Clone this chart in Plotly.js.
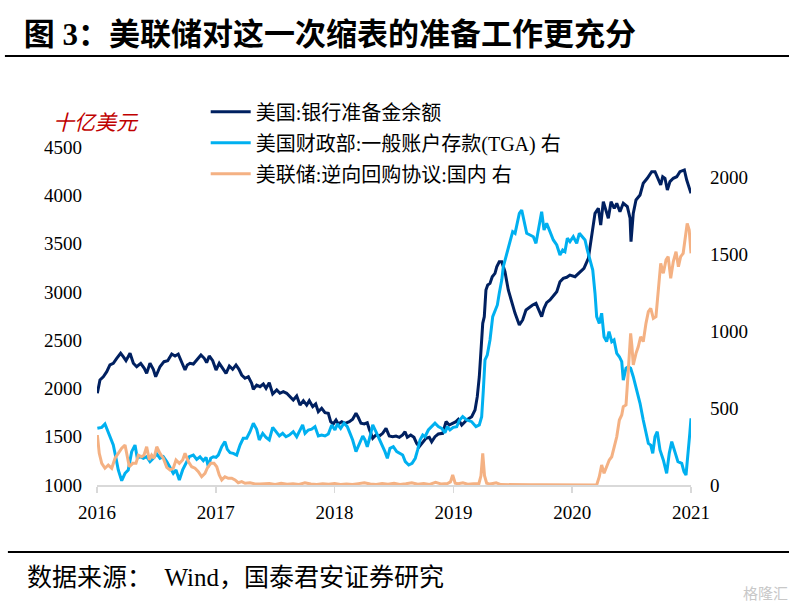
<!DOCTYPE html>
<html><head><meta charset="utf-8">
<script src="https://cdn.plot.ly/plotly-3.0.1.min.js"></script>
<style>html,body{margin:0;padding:0;background:#fff}#chart{width:789px;height:612px}</style>
</head><body><div id="chart"></div>
<script>
// 美国:银行准备金余额 (left axis, 十亿美元)
const reserveYears = [2016.003,2016.025,2016.053,2016.082,2016.109,2016.137,2016.166,2016.199,2016.221,2016.244,2016.278,2016.306,2016.334,2016.368,2016.398,2016.418,2016.446,2016.474,2016.494,2016.530,2016.564,2016.595,2016.629,2016.657,2016.684,2016.713,2016.741,2016.760,2016.783,2016.811,2016.839,2016.875,2016.903,2016.923,2016.945,2016.974,2017.002,2017.029,2017.058,2017.086,2017.114,2017.142,2017.170,2017.195,2017.218,2017.246,2017.274,2017.302,2017.316,2017.344,2017.372,2017.400,2017.423,2017.450,2017.479,2017.513,2017.540,2017.568,2017.597,2017.625,2017.652,2017.681,2017.709,2017.737,2017.765,2017.787,2017.816,2017.841,2017.863,2017.891,2017.919,2017.947,2017.967,2017.989,2018.012,2018.031,2018.060,2018.088,2018.124,2018.152,2018.180,2018.199,2018.222,2018.250,2018.275,2018.292,2018.321,2018.348,2018.376,2018.405,2018.433,2018.460,2018.489,2018.517,2018.545,2018.573,2018.593,2018.612,2018.641,2018.668,2018.691,2018.713,2018.742,2018.769,2018.797,2018.817,2018.845,2018.873,2018.910,2018.938,2018.965,2018.994,2019.022,2019.041,2019.070,2019.112,2019.154,2019.182,2019.201,2019.218,2019.235,2019.247,2019.260,2019.274,2019.289,2019.308,2019.327,2019.350,2019.365,2019.386,2019.407,2019.434,2019.462,2019.491,2019.519,2019.555,2019.583,2019.611,2019.639,2019.667,2019.695,2019.715,2019.743,2019.763,2019.785,2019.813,2019.841,2019.870,2019.897,2019.925,2019.954,2019.981,2020.024,2020.066,2020.099,2020.136,2020.164,2020.192,2020.220,2020.240,2020.262,2020.285,2020.304,2020.327,2020.354,2020.375,2020.402,2020.430,2020.464,2020.487,2020.495,2020.514,2020.537,2020.571,2020.598,2020.632,2020.669,2020.697,2020.725,2020.745,2020.762,2020.781,2020.801,2020.823,2020.851,2020.880,2020.907,2020.944,2020.964,2020.986,2021.000];
const reserveValues = [1950,2087,2121,2173,2243,2260,2312,2364,2329,2287,2364,2260,2225,2260,2208,2156,2260,2198,2121,2225,2277,2287,2356,2336,2356,2277,2191,2243,2260,2253,2294,2346,2312,2267,2336,2287,2191,2260,2208,2156,2232,2198,2243,2198,2139,2105,2121,2053,1991,2035,2018,2046,2001,2059,1942,1984,1950,1966,1950,1915,1880,1922,1828,1873,1828,1873,1811,1839,1759,1794,1749,1742,1656,1632,1673,1632,1656,1639,1656,1680,1742,1701,1639,1632,1645,1577,1484,1518,1507,1535,1587,1507,1500,1507,1494,1518,1552,1494,1518,1494,1431,1397,1448,1484,1494,1448,1500,1528,1535,1656,1621,1639,1656,1680,1621,1673,1707,1777,1915,2121,2398,2674,2743,3019,3071,3088,3157,3192,3260,3312,3312,3209,3019,2881,2778,2657,2709,2812,2840,2864,2881,2829,2743,2829,2888,2916,2957,3002,3105,3140,3151,3174,3157,3209,3243,3347,3571,3813,3865,3692,3934,3848,3762,3934,3865,3917,3830,3917,3882,3762,3520,3813,3951,4003,4124,4176,4244,4244,4158,4107,4192,4176,4055,4141,4176,4192,4244,4262,4158,4055,4020];

// 美国财政部:一般账户存款(TGA) (right axis)
const tgaYears = [2016.003,2016.040,2016.067,2016.087,2016.109,2016.137,2016.160,2016.179,2016.208,2016.236,2016.263,2016.292,2016.320,2016.339,2016.362,2016.390,2016.418,2016.446,2016.474,2016.503,2016.530,2016.558,2016.587,2016.614,2016.642,2016.665,2016.693,2016.721,2016.749,2016.777,2016.811,2016.839,2016.867,2016.895,2016.918,2016.937,2016.957,2016.979,2017.002,2017.021,2017.050,2017.077,2017.097,2017.120,2017.147,2017.176,2017.204,2017.231,2017.260,2017.288,2017.316,2017.344,2017.366,2017.395,2017.423,2017.450,2017.479,2017.507,2017.535,2017.563,2017.591,2017.619,2017.652,2017.681,2017.709,2017.731,2017.751,2017.779,2017.807,2017.835,2017.863,2017.891,2017.919,2017.947,2017.976,2018.003,2018.023,2018.051,2018.079,2018.107,2018.130,2018.152,2018.180,2018.208,2018.237,2018.256,2018.275,2018.298,2018.321,2018.348,2018.376,2018.405,2018.424,2018.444,2018.466,2018.494,2018.523,2018.551,2018.573,2018.595,2018.624,2018.652,2018.679,2018.699,2018.719,2018.742,2018.761,2018.789,2018.817,2018.845,2018.873,2018.902,2018.929,2018.949,2018.971,2018.999,2019.028,2019.050,2019.078,2019.112,2019.154,2019.190,2019.218,2019.238,2019.252,2019.266,2019.285,2019.308,2019.331,2019.350,2019.370,2019.386,2019.407,2019.420,2019.443,2019.462,2019.482,2019.499,2019.519,2019.538,2019.555,2019.575,2019.594,2019.617,2019.645,2019.673,2019.695,2019.715,2019.743,2019.763,2019.785,2019.813,2019.841,2019.870,2019.897,2019.920,2019.939,2019.959,2019.981,2020.009,2020.038,2020.060,2020.088,2020.108,2020.127,2020.150,2020.173,2020.192,2020.206,2020.228,2020.248,2020.268,2020.290,2020.310,2020.333,2020.352,2020.375,2020.397,2020.417,2020.430,2020.453,2020.472,2020.492,2020.514,2020.543,2020.571,2020.598,2020.621,2020.641,2020.661,2020.678,2020.697,2020.716,2020.739,2020.767,2020.795,2020.817,2020.838,2020.865,2020.890,2020.922,2020.941,2020.958,2020.977,2020.990,2021.000];
const tgaValues = [369,375,397,358,304,260,174,98,28,76,98,217,260,174,184,174,184,152,174,202,174,184,152,119,76,98,33,98,141,184,195,167,184,158,180,119,174,184,180,195,249,282,232,210,206,195,260,304,304,347,402,362,293,336,310,293,375,347,319,336,314,325,347,314,358,391,336,358,363,380,319,325,319,332,391,358,397,369,402,380,336,293,217,271,319,293,249,314,391,347,293,249,217,174,239,249,217,206,195,152,130,141,174,228,293,325,314,358,380,402,380,369,340,380,358,375,380,420,445,423,412,380,391,445,618,814,846,944,1096,1139,1172,1248,1334,1421,1486,1551,1595,1649,1638,1703,1768,1790,1725,1638,1627,1616,1573,1660,1779,1660,1703,1649,1595,1562,1497,1530,1519,1606,1584,1616,1573,1638,1616,1595,1530,1465,1399,1248,1096,1052,1118,965,933,998,933,944,857,835,803,683,760,770,760,705,618,532,423,336,271,260,206,314,347,228,163,76,206,282,206,152,141,87,65,206,336,434];

// 美联储:逆向回购协议:国内 (right axis)
const rrpYears = [2016.003,2016.019,2016.040,2016.067,2016.095,2016.124,2016.152,2016.179,2016.208,2016.236,2016.255,2016.272,2016.301,2016.328,2016.348,2016.376,2016.396,2016.418,2016.440,2016.460,2016.480,2016.503,2016.530,2016.558,2016.587,2016.614,2016.642,2016.665,2016.693,2016.721,2016.741,2016.769,2016.797,2016.825,2016.853,2016.881,2016.909,2016.928,2016.957,2016.985,2017.008,2017.029,2017.050,2017.077,2017.105,2017.134,2017.162,2017.189,2017.218,2017.246,2017.288,2017.330,2017.372,2017.450,2017.500,2017.550,2017.600,2017.650,2017.700,2017.750,2017.800,2017.850,2017.900,2017.950,2018.000,2018.050,2018.100,2018.150,2018.200,2018.250,2018.300,2018.350,2018.400,2018.450,2018.500,2018.550,2018.600,2018.650,2018.700,2018.750,2018.800,2018.850,2018.900,2018.950,2018.975,2018.994,2019.015,2019.040,2019.080,2019.120,2019.170,2019.215,2019.232,2019.247,2019.262,2019.280,2019.310,2019.360,2019.400,2019.450,2019.550,2019.650,2019.750,2019.850,2019.950,2020.050,2020.150,2020.206,2020.228,2020.248,2020.268,2020.290,2020.312,2020.333,2020.352,2020.375,2020.397,2020.417,2020.430,2020.453,2020.467,2020.480,2020.492,2020.503,2020.514,2020.537,2020.556,2020.576,2020.598,2020.621,2020.641,2020.661,2020.683,2020.705,2020.725,2020.745,2020.767,2020.790,2020.808,2020.829,2020.851,2020.874,2020.894,2020.913,2020.934,2020.954,2020.968,2020.985,2021.000];
const rrpValues = [325,206,141,109,130,109,174,206,239,260,195,119,141,141,195,184,195,249,163,195,174,249,206,174,115,98,109,163,141,163,206,152,119,109,87,54,76,109,141,141,119,65,33,54,44,44,33,15,22,11,15,7,7,10,4,12,5,8,4,14,6,3,8,5,10,4,7,3,9,15,6,4,10,5,12,4,8,14,5,10,4,18,6,10,20,65,12,8,14,5,8,10,60,206,60,12,6,14,3,2,1,1,2,1,1,1,1,0,54,130,76,119,163,184,249,314,423,456,510,521,683,857,987,900,781,857,900,965,933,1052,1128,1150,1085,1096,1291,1443,1378,1465,1486,1345,1454,1519,1421,1486,1508,1616,1703,1660,1508];

const leftTicks = [1000,1500,2000,2500,3000,3500,4000,4500];
const rightTicks = [0,500,1000,1500,2000];
const yearTicks = [2016,2017,2018,2019,2020,2021];
const seriesNames = ['美国:银行准备金余额','美国财政部:一般账户存款(TGA) 右','美联储:逆向回购协议:国内 右'];

const SERIF = 'Liberation Serif, Noto Sans CJK SC, serif';
const traces = [
  {x: reserveYears, y: reserveValues, name: seriesNames[0], type: 'scatter', mode: 'lines',
   line: {color: '#002060', width: 3}, yaxis: 'y', legendgroup: 'a'},
  {x: tgaYears, y: tgaValues, name: seriesNames[1], type: 'scatter', mode: 'lines',
   line: {color: '#00B0F0', width: 3}, yaxis: 'y2', legendgroup: 'b'},
  {x: rrpYears, y: rrpValues, name: seriesNames[2], type: 'scatter', mode: 'lines',
   line: {color: '#F4B183', width: 3}, yaxis: 'y2', legendgroup: 'c'}
];

const layout = {
  width: 789, height: 612,
  margin: {l: 97, r: 98, t: 147, b: 127},
  paper_bgcolor: '#fff', plot_bgcolor: '#fff',
  font: {family: SERIF, color: '#000', size: 19},
  title: {text: '图 3：美联储对这一次缩表的准备工作更充分', x: 0.030, xanchor: 'left',
          y: 0.944, yanchor: 'middle', xref: 'container', yref: 'container',
          font: {family: SERIF, size: 31, color: '#000', weight: 'bold'}},
  xaxis: {range: [2016, 2021], tickvals: yearTicks, ticktext: yearTicks.map(String),
          showgrid: false, zeroline: false, showline: true, linecolor: '#D9D9D9', linewidth: 1.5,
          ticks: 'outside', ticklen: 6, tickcolor: '#D9D9D9', tickwidth: 1.5,
          tickfont: {family: SERIF, size: 19, color: '#000'}, ticklabelstandoff: 4},
  yaxis: {range: [1000, 4500], tickvals: leftTicks, showgrid: false, zeroline: false,
          showline: false, ticks: '', tickfont: {family: SERIF, size: 19, color: '#000'},
          ticklabelstandoff: 14},
  yaxis2: {range: [0, 2200], tickvals: rightTicks, overlaying: 'y', side: 'right',
           showgrid: false, zeroline: false, showline: false, ticks: '',
           tickfont: {family: SERIF, size: 19, color: '#000'}, ticklabelstandoff: 18},
  showlegend: true,
  legend: {x: 0.183, y: 1.162, xanchor: 'left', yanchor: 'top', bgcolor: 'rgba(0,0,0,0)',
           font: {family: SERIF, size: 20, color: '#000'}, itemwidth: 40,
           traceorder: 'grouped', tracegroupgap: 2},
  shapes: [
    {type: 'line', xref: 'paper', yref: 'paper', x0: -0.155, x1: 1.17, y0: 1.269, y1: 1.269,
     line: {color: '#000', width: 2}},
    {type: 'line', xref: 'paper', yref: 'paper', x0: -0.150, x1: 1.17, y0: -0.198, y1: -0.198,
     line: {color: '#000', width: 2}}
  ],
  annotations: [
    {text: '十亿美元', xref: 'paper', yref: 'paper', x: -0.078, y: 1.071, xanchor: 'left', yanchor: 'middle',
     showarrow: false, font: {family: SERIF, size: 21, color: '#C00000', style: 'italic'}},
    {text: '数据来源：\u00A0\u00A0Wind，国泰君安证券研究', xref: 'paper', yref: 'paper', x: -0.121, y: -0.275,
     xanchor: 'left', yanchor: 'middle', showarrow: false,
     font: {family: SERIF, size: 25, color: '#000'}},
    {text: '格隆汇', xref: 'paper', yref: 'paper', x: 1.085, y: -0.318, xanchor: 'left', yanchor: 'middle',
     showarrow: false, font: {family: 'Noto Sans CJK SC', size: 15, color: '#C8C8C8'}}
  ]
};

Plotly.newPlot('chart', traces, layout, {displayModeBar: false, staticPlot: true});
</script>
</body></html>
